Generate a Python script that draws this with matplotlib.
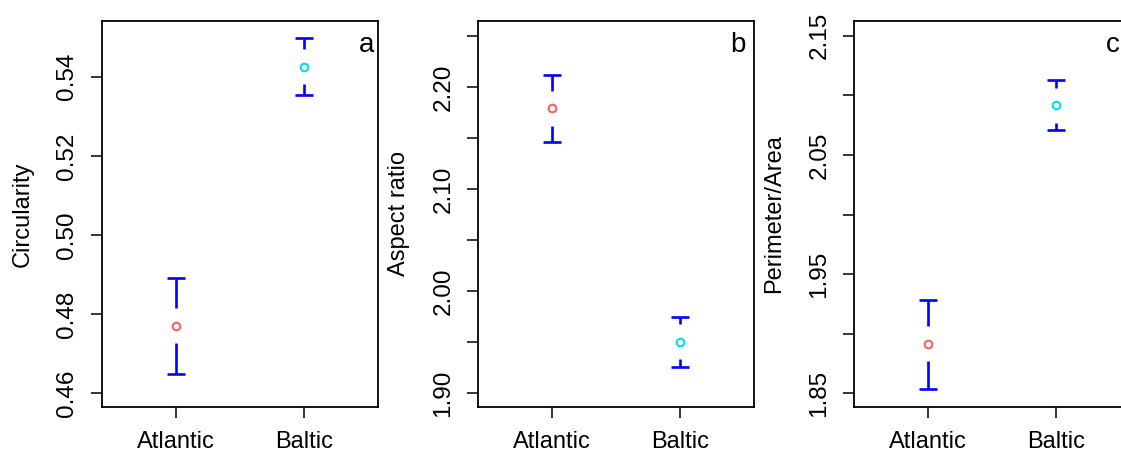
import matplotlib
matplotlib.use("Agg")
import matplotlib.pyplot as plt
import numpy as np

plt.rcParams['font.family'] = ['Liberation Sans', 'DejaVu Sans']

groups = ["Atlantic", "Baltic"]
point_colors = ["#FF6060", "#00DDEE"]

circ_mean = [0.4770, 0.5425]
circ_low = [0.4648, 0.5355]
circ_high = [0.4891, 0.5497]

aspect_mean = [2.1791, 1.9504]
aspect_low = [2.1464, 1.9255]
aspect_high = [2.2115, 1.9744]

pa_mean = [1.8917, 2.0918]
pa_low = [1.8539, 2.0708]
pa_high = [1.9284, 2.1131]

circ_ticks = [0.46, 0.48, 0.50, 0.52, 0.54]
circ_labels = ["0.46", "0.48", "0.50", "0.52", "0.54"]
aspect_ticks = [1.90, 1.95, 2.00, 2.05, 2.10, 2.15, 2.20, 2.25]
aspect_labels = ["1.90", "", "2.00", "", "2.10", "", "2.20", ""]
pa_ticks = [1.85, 1.90, 1.95, 2.00, 2.05, 2.10, 2.15]
pa_labels = ["1.85", "", "1.95", "", "2.05", "", "2.15"]

W, H = 1121, 455
DPI = 100
fig = plt.figure(figsize=(W / DPI, H / DPI), dpi=DPI)

panels = [
  dict(left=102, ylabel="Circularity", mean=circ_mean, low=circ_low, high=circ_high,
       ylim=(0.4565, 0.5541), ticks=circ_ticks, labels=circ_labels, letter="a", lx=0.959),
  dict(left=478, ylabel="Aspect ratio", mean=aspect_mean, low=aspect_low, high=aspect_high,
       ylim=(1.8866, 2.2646), ticks=aspect_ticks, labels=aspect_labels, letter="b", lx=0.941),
  dict(left=854, ylabel="Perimeter/Area", mean=pa_mean, low=pa_low, high=pa_high,
       ylim=(1.8385, 2.1624), ticks=pa_ticks, labels=pa_labels, letter="c", lx=0.938),
]

box_w, box_top, box_bot = 276, 21, 407
box_h = box_bot - box_top
gap_px = 17.5
cap_px = 9

for p in panels:
  ax = fig.add_axes([p["left"] / W, (H - box_bot) / H, box_w / W, box_h / H])
  xs = np.arange(1, len(groups) + 1)
  ax.set_xlim(0.42, 2.58)
  ax.set_ylim(*p["ylim"])

  # gap around the point and cap half-width, both in pixels -> data units
  y_per_px = (p["ylim"][1] - p["ylim"][0]) / box_h
  x_per_px = (2.58 - 0.42) / box_w
  gap = gap_px * y_per_px
  cap = cap_px * x_per_px

  for i, x in enumerate(xs):
    m, lo, hi = p["mean"][i], p["low"][i], p["high"][i]
    if hi - m > gap:
      ax.plot([x, x], [m + gap, hi], color="blue", lw=1.9, solid_capstyle="butt")
    if m - lo > gap:
      ax.plot([x, x], [lo, m - gap], color="blue", lw=1.9, solid_capstyle="butt")
    ax.plot([x - cap, x + cap], [hi, hi], color="blue", lw=1.9, solid_capstyle="butt")
    ax.plot([x - cap, x + cap], [lo, lo], color="blue", lw=1.9, solid_capstyle="butt")
    ax.plot(x, m, marker="o", ms=5.5, mfc="none", mec=point_colors[i], mew=1.5, ls="none")

  ax.set_xticks(xs)
  ax.set_xticklabels(groups, fontsize=17)
  ax.set_yticks(p["ticks"])
  ax.set_yticklabels(p["labels"], fontsize=17.5, rotation=90, va="center")
  ax.tick_params(axis="both", direction="out", length=8, width=1.1, color="black")
  ax.tick_params(axis="y", pad=9)
  ax.tick_params(axis="x", pad=9)
  for s in ax.spines.values():
    s.set_linewidth(1.3)

  ax.set_ylabel(p["ylabel"], fontsize=17)
  ax.yaxis.label.set_va("center")
  ax.yaxis.set_label_coords(-0.288, 0.5)

  ax.text(p["lx"], 0.938, p["letter"], transform=ax.transAxes, fontsize=20,
          ha="center", va="center")

fig.savefig("out.png", dpi=DPI)
